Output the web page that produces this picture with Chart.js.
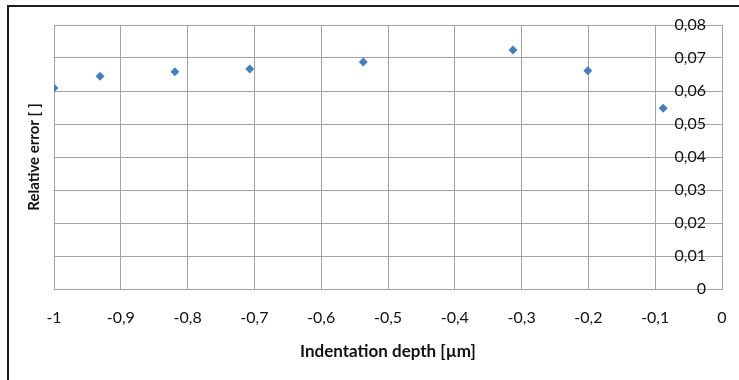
<!DOCTYPE html>
<html>
<head>
<meta charset="utf-8">
<script src="https://cdn.jsdelivr.net/npm/chart.js@4.4.1/dist/chart.umd.min.js"></script>
<style>
body { margin: 0; background: #fff; }
#wrap { position: relative; width: 739px; height: 380px; }
#frame { position: absolute; left: 7px; top: 5px; width: 740px; height: 380px;
  border-left: 2px solid #1e1e1e; border-top: 2px solid #1e1e1e; }
canvas { position: absolute; left: 0; top: 0; }
</style>
</head>
<body>
<div id="wrap">
<div id="frame"></div>
<canvas id="chart" width="739" height="380"></canvas>
</div>
<script>
// indentation depth [µm] vs relative error
var depth = [-1, -0.931, -0.819, -0.707, -0.537, -0.313, -0.201, -0.088];
var relError = [0.0609, 0.0645, 0.0658, 0.0667, 0.0688, 0.0724, 0.0661, 0.0548];

var points = [];
for (var i = 0; i < depth.length; i++) {
  points.push({x: depth[i], y: relError[i]});
}

var fmt = function(v) { return String(Math.round(v * 100) / 100).replace('.', ','); };
var gridColor = '#a3a3a3';
var font = 'Lato';

var ctx = document.getElementById('chart').getContext('2d');
var chart = new Chart(ctx, {
  type: 'scatter',
  data: {
    datasets: [{
      data: points,
      pointStyle: 'rectRot',
      pointRadius: 4.5,
      backgroundColor: '#4a7ebb',
      borderColor: '#4a7ebb',
      borderWidth: 0,
      yAxisID: 'y'
    }]
  },
  options: {
    responsive: false,
    animation: false,
    layout: { padding: { left: 24, top: 25, right: 0, bottom: 0 } },
    plugins: { legend: { display: false }, tooltip: { enabled: false } },
    scales: {
      x: {
        type: 'linear',
        min: -1, max: 0,
        ticks: { stepSize: 0.1, padding: 3, color: '#111', font: { family: font, size: 16 }, callback: fmt },
        grid: { color: gridColor, drawTicks: true, tickLength: 16, tickColor: 'rgba(0,0,0,0)' },
        border: { color: gridColor },
        title: { display: true, text: 'Indentation depth [µm]', color: '#111',
          font: { family: font, size: 17, weight: 'bold' }, padding: { top: 0, bottom: 18 } },
        afterFit: function(s) { s.height = 91; }
      },
      y: {
        position: 'right',
        min: 0, max: 0.08,
        ticks: { stepSize: 0.01, mirror: true, padding: -16, color: '#111',
          font: { family: font, size: 16 }, callback: fmt },
        grid: { color: gridColor, drawTicks: false },
        border: { color: gridColor },
        afterFit: function(s) { s.width = 17; }
      },
      yTitle: {
        position: 'left',
        min: 0, max: 0.08,
        ticks: { display: false },
        grid: { display: false },
        border: { display: false },
        title: { display: true, text: 'Relative error [ ]', color: '#111',
          font: { family: font, size: 15, weight: 'bold' }, padding: { top: 1, bottom: 4 } },
        afterFit: function(s) { s.width = 30; }
      }
    }
  }
});
</script>
</body>
</html>
